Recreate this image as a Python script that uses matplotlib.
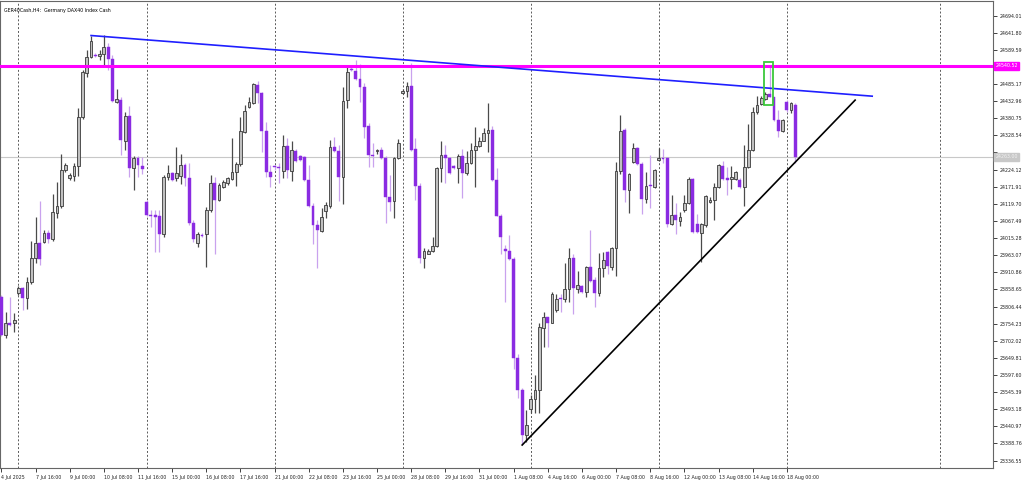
import matplotlib
matplotlib.use('Agg')
import matplotlib.pyplot as plt
from matplotlib.patches import Rectangle
import matplotlib.transforms as mtransforms
from matplotlib import font_manager

opens = [23836, 23719, 23756, 23756, 23847, 23863, 23832, 23881, 23954, 24000,
         24004, 24030, 24012, 24092, 24113, 24222, 24197, 24206, 24235, 24384,
         24519, 24568, 24575, 24570, 24578, 24597, 24560, 24431, 24436, 24312,
         24387, 24228, 24258, 24235, 24126, 24087, 24085, 24082, 24027, 24200,
         24214, 24198, 24206, 24238, 24197, 24060, 23999, 24026, 24027, 24100,
         24182, 24131, 24172, 24182, 24194, 24217, 24240, 24339, 24416, 24428,
         24482, 24458, 24341, 24217, 24234, 24232, 24220, 24296, 24220, 24282,
         24265, 24261, 24192, 24114, 24055, 24038, 24099, 24114, 24292, 24282,
         24202, 24436, 24531, 24526, 24499, 24475, 24357, 24270, 24282, 24284,
         24258, 24141, 24129, 24258, 24458, 24464, 24479, 24286, 24174, 23953,
         23968, 23976, 23991, 24228, 24268, 24258, 24235, 24228, 24265, 24214,
         24243, 24284, 24296, 24312, 24336, 24345, 24192, 24083, 23981, 23975,
         23950, 23648, 23552, 23414, 23493, 23523, 23552, 23740, 23773, 23757,
         23796, 23832, 23830, 23859, 23953, 23859, 23869, 23851, 23928, 23887,
         23848, 23923, 23973, 23928, 23984, 24220, 24345, 24162, 24248, 24289,
         24241, 24133, 24176, 24172, 24253, 24259, 24258, 24058, 24085, 24068,
         24100, 24123, 24194, 24058, 24031, 24055, 24126, 24131, 24170, 24235,
         24197, 24194, 24194, 24192, 24170, 24231, 24284, 24400, 24424, 24438,
         24456, 24444, 24375, 24342, 24431, 24405, 24421]
highs = [23841, 23789, 23835, 23787, 23869, 23866, 23897, 24007, 24080, 24128,
         24040, 24040, 24149, 24187, 24271, 24245, 24214, 24243, 24411, 24528,
         24589, 24631, 24579, 24589, 24634, 24610, 24573, 24469, 24446, 24400,
         24418, 24265, 24265, 24261, 24131, 24100, 24100, 24100, 24207, 24238,
         24217, 24293, 24273, 24244, 24245, 24070, 24034, 24030, 24111, 24207,
         24202, 24182, 24192, 24202, 24319, 24248, 24384, 24421, 24444, 24489,
         24495, 24461, 24370, 24238, 24238, 24243, 24331, 24319, 24312, 24287,
         24268, 24265, 24238, 24121, 24070, 24106, 24126, 24314, 24322, 24299,
         24477, 24543, 24538, 24558, 24546, 24487, 24365, 24306, 24288, 24294,
         24265, 24207, 24261, 24316, 24469, 24492, 24548, 24319, 24182, 23984,
         23982, 24019, 24231, 24312, 24299, 24263, 24238, 24273, 24286, 24282,
         24304, 24353, 24324, 24350, 24428, 24357, 24228, 24090, 23994, 24024,
         23958, 23663, 23557, 23491, 23536, 23597, 23755, 23790, 23775, 23851,
         23844, 23846, 23938, 23984, 23966, 23915, 23872, 23930, 24040, 23895,
         23970, 23973, 23976, 23989, 24248, 24390, 24350, 24214, 24306, 24292,
         24248, 24217, 24268, 24225, 24289, 24286, 24263, 24146, 24121, 24095,
         24146, 24200, 24197, 24088, 24062, 24146, 24141, 24184, 24241, 24251,
         24233, 24235, 24220, 24197, 24299, 24363, 24414, 24448, 24448, 24460,
         24543, 24446, 24405, 24377, 24436, 24431, 24426]
lows = [23716, 23710, 23747, 23729, 23841, 23796, 23799, 23875, 23939, 23933,
        24000, 24000, 24006, 24076, 24107, 24217, 24192, 24190, 24204, 24377,
        24507, 24564, 24567, 24558, 24543, 24528, 24431, 24428, 24268, 24284,
        24202, 24162, 24202, 24210, 24082, 24050, 23973, 23973, 24019, 24192,
        24190, 24189, 24180, 24174, 24055, 24004, 23989, 24018, 23926, 24095,
        23968, 24129, 24168, 24177, 24192, 24174, 24235, 24335, 24412, 24424,
        24426, 24278, 24202, 24170, 24222, 24182, 24197, 24197, 24189, 24247,
        24250, 24189, 24111, 23996, 23923, 24034, 24075, 24106, 24277, 24129,
        24119, 24411, 24526, 24497, 24431, 24319, 24233, 24233, 24273, 24256,
        24062, 24099, 24075, 24256, 24456, 24446, 24282, 24131, 23938, 23923,
        23966, 23973, 23989, 24187, 24182, 24210, 24226, 24182, 24136, 24207,
        24241, 24170, 24293, 24311, 24278, 24189, 24082, 23966, 23821, 23948,
        23615, 23526, 23387, 23393, 23481, 23481, 23482, 23682, 23684, 23755,
        23790, 23790, 23821, 23821, 23783, 23848, 23849, 23834, 23882, 23804,
        23838, 23897, 23905, 23918, 23899, 24212, 24126, 24092, 24244, 24238,
        24088, 24121, 24106, 24167, 24250, 24243, 24050, 24055, 24029, 24052,
        24095, 24119, 24030, 24030, 23943, 24050, 24121, 24070, 24168, 24192,
        24146, 24164, 24192, 24168, 24113, 24229, 24280, 24395, 24421, 24436,
        24444, 24372, 24324, 24340, 24399, 24397, 24243]
closes = [23719, 23757, 23751, 23765, 23863, 23832, 23881, 23954, 24001, 23952,
          24030, 24012, 24095, 24113, 24222, 24238, 24207, 24235, 24384, 24522,
          24568, 24617, 24570, 24578, 24597, 24560, 24433, 24439, 24314, 24387,
          24228, 24260, 24238, 24225, 24085, 24084, 24081, 24027, 24200, 24214,
          24192, 24213, 24238, 24197, 24060, 24011, 24027, 24023, 24100, 24182,
          24131, 24177, 24187, 24197, 24217, 24240, 24342, 24402, 24431, 24484,
          24458, 24341, 24217, 24202, 24231, 24229, 24296, 24222, 24284, 24251,
          24253, 24192, 24114, 24055, 24040, 24079, 24116, 24292, 24282, 24202,
          24433, 24522, 24528, 24499, 24475, 24355, 24268, 24267, 24285, 24258,
          24141, 24126, 24258, 24306, 24464, 24479, 24284, 24174, 23953, 23976,
          23976, 23991, 24228, 24268, 24258, 24214, 24228, 24265, 24214, 24243,
          24284, 24296, 24312, 24336, 24345, 24192, 24083, 24017, 23975, 23950,
          23648, 23552, 23414, 23445, 23523, 23552, 23743, 23773, 23757, 23846,
          23828, 23828, 23859, 23953, 23862, 23872, 23851, 23928, 23884, 23848,
          23923, 23948, 23930, 23984, 24220, 24342, 24162, 24210, 24289, 24241,
          24133, 24175, 24173, 24222, 24258, 24256, 24058, 24085, 24070, 24079,
          24123, 24194, 24034, 24034, 24058, 24143, 24131, 24170, 24238, 24194,
          24192, 24202, 24217, 24170, 24231, 24284, 24400, 24421, 24441, 24456,
          24446, 24375, 24342, 24375, 24405, 24426, 24263]

x_tick_bars = [0, 8, 16, 24, 32, 40, 48, 56, 64, 72, 80, 88, 96, 104, 112, 120,
               128, 136, 144, 152, 160, 168, 176, 184]
x_tick_labels = ["4 Jul 2025", "7 Jul 16:00", "9 Jul 00:00", "10 Jul 08:00",
                 "11 Jul 16:00", "15 Jul 00:00", "16 Jul 08:00", "17 Jul 16:00",
                 "21 Jul 00:00", "22 Jul 08:00", "23 Jul 16:00", "25 Jul 00:00",
                 "28 Jul 08:00", "29 Jul 16:00", "31 Jul 00:00", "1 Aug 08:00",
                 "4 Aug 16:00", "6 Aug 00:00", "7 Aug 08:00", "8 Aug 16:00",
                 "12 Aug 00:00", "13 Aug 08:00", "14 Aug 16:00", "18 Aug 00:00"]
y_ticks = [24694.01, 24641.80, 24589.59, 24537.38, 24485.17, 24432.96, 24380.75,
           24328.54, 24276.33, 24224.12, 24171.91, 24119.70, 24067.49, 24015.28,
           23963.07, 23910.86, 23858.65, 23806.44, 23754.23, 23702.02, 23649.81,
           23597.60, 23545.39, 23493.18, 23440.97, 23388.76, 23336.55]
hidden_y_ticks = [24537.38, 24276.33]
week_separators = [4, 34, 64, 94, 124, 154, 184, 220]

resistance_level = 24540.52
descending_line_bars = [21, 204]
descending_line_prices = [24633, 24448]
ascending_line_bars = [122, 200]
ascending_line_prices = [23384, 24436]
box_bars = [178.7, 180.8]
box_prices = [24421, 24552]
title = "GER40Cash,H4:  Germany DAX40 Index Cash"

available = {f.name for f in font_manager.fontManager.ttflist}
narrow = 'Liberation Sans Narrow' in available
fam = ['Liberation Sans Narrow', 'DejaVu Sans'] if narrow else ['DejaVu Sans']
fs = 4.0 if narrow else 3.4
plt.rcParams['font.family'] = fam

fig = plt.figure(figsize=(10.24, 4.88), dpi=100)
fig.patch.set_facecolor('white')
ax = fig.add_axes([0.0, 20 / 488, 993 / 1024, 467 / 488])
ax.set_facecolor('white')
ax.set_xlim(-0.33, 232.3)
ax.set_ylim(23313.9, 24738.3)

bull_body = '#c0c0c0'
bull_edge = '#3a3a3a'
bear_body = '#8a2be2'
bear_wick = '#c9a2ee'
bull_wick = '#4a4a4a'

for i, (o, h, l, c) in enumerate(zip(opens, highs, lows, closes)):
    bull = c >= o
    ax.vlines(i, l, h, colors=bull_wick if bull else bear_wick, linewidth=0.9, zorder=3)
    lo, hi = min(o, c), max(o, c)
    height = max(hi - lo, 2.5)
    if bull:
        ax.add_patch(Rectangle((i - 0.32, lo), 0.64, height, facecolor=bull_body,
                               edgecolor=bull_edge, linewidth=0.6, zorder=4))
    else:
        ax.add_patch(Rectangle((i - 0.34, lo), 0.68, height, facecolor=bear_body,
                               edgecolor=bear_body, linewidth=0.3, zorder=4))

for s in week_separators:
    ax.axvline(s, color='#5a5a5a', linestyle=(0, (2, 2)), linewidth=0.7, zorder=1)

last_price = closes[-1]
ax.axhline(last_price, color='#c8c8c8', linewidth=0.8, zorder=1)
ax.axhline(resistance_level, color='#ff00ff', linewidth=2.2, zorder=5)
ax.plot(descending_line_bars, descending_line_prices, color='#1f1fff', linewidth=1.2, zorder=6)
ax.plot(ascending_line_bars, ascending_line_prices, color='black', linewidth=1.2, zorder=6)
ax.add_patch(Rectangle((box_bars[0], box_prices[0]), box_bars[1] - box_bars[0],
                       box_prices[1] - box_prices[0], fill=False, edgecolor='#3cc83c',
                       linewidth=1.3, zorder=7))

ax.yaxis.tick_right()
ax.set_yticks(y_ticks)
ax.set_yticklabels(['' if v in hidden_y_ticks else f"{v:.2f}" for v in y_ticks], fontsize=fs)
ax.tick_params(axis='y', direction='out', length=3, width=0.6, pad=1.5, colors='#222222')
ax.set_xticks(x_tick_bars)
ax.set_xticklabels(x_tick_labels, fontsize=fs)
for lab in ax.get_xticklabels():
    lab.set_horizontalalignment('left')
ax.tick_params(axis='x', direction='out', length=3, width=0.6, pad=2, colors='#222222')

for sp in ax.spines.values():
    sp.set_color('#666666')
    sp.set_linewidth(0.8)

trans = mtransforms.blended_transform_factory(ax.transAxes, ax.transData)
ax.text(1.0025, resistance_level, f"{resistance_level:.2f}", transform=trans, fontsize=fs,
        color='white', va='center', ha='left', zorder=10, clip_on=False,
        bbox=dict(boxstyle='square,pad=0.25', facecolor='#ff00ff', edgecolor='#ff00ff'))
ax.text(1.0025, last_price, f"{last_price:.2f}", transform=trans, fontsize=fs,
        color='#f2f2f2', va='center', ha='left', zorder=10, clip_on=False,
        bbox=dict(boxstyle='square,pad=0.25', facecolor='#c8c8c8', edgecolor='#c8c8c8'))

ax.text(0.004, 0.985, title, transform=ax.transAxes, fontsize=fs, color='black',
        va='top', ha='left', zorder=10)

fig.savefig('out.png', dpi=100, facecolor='white')
